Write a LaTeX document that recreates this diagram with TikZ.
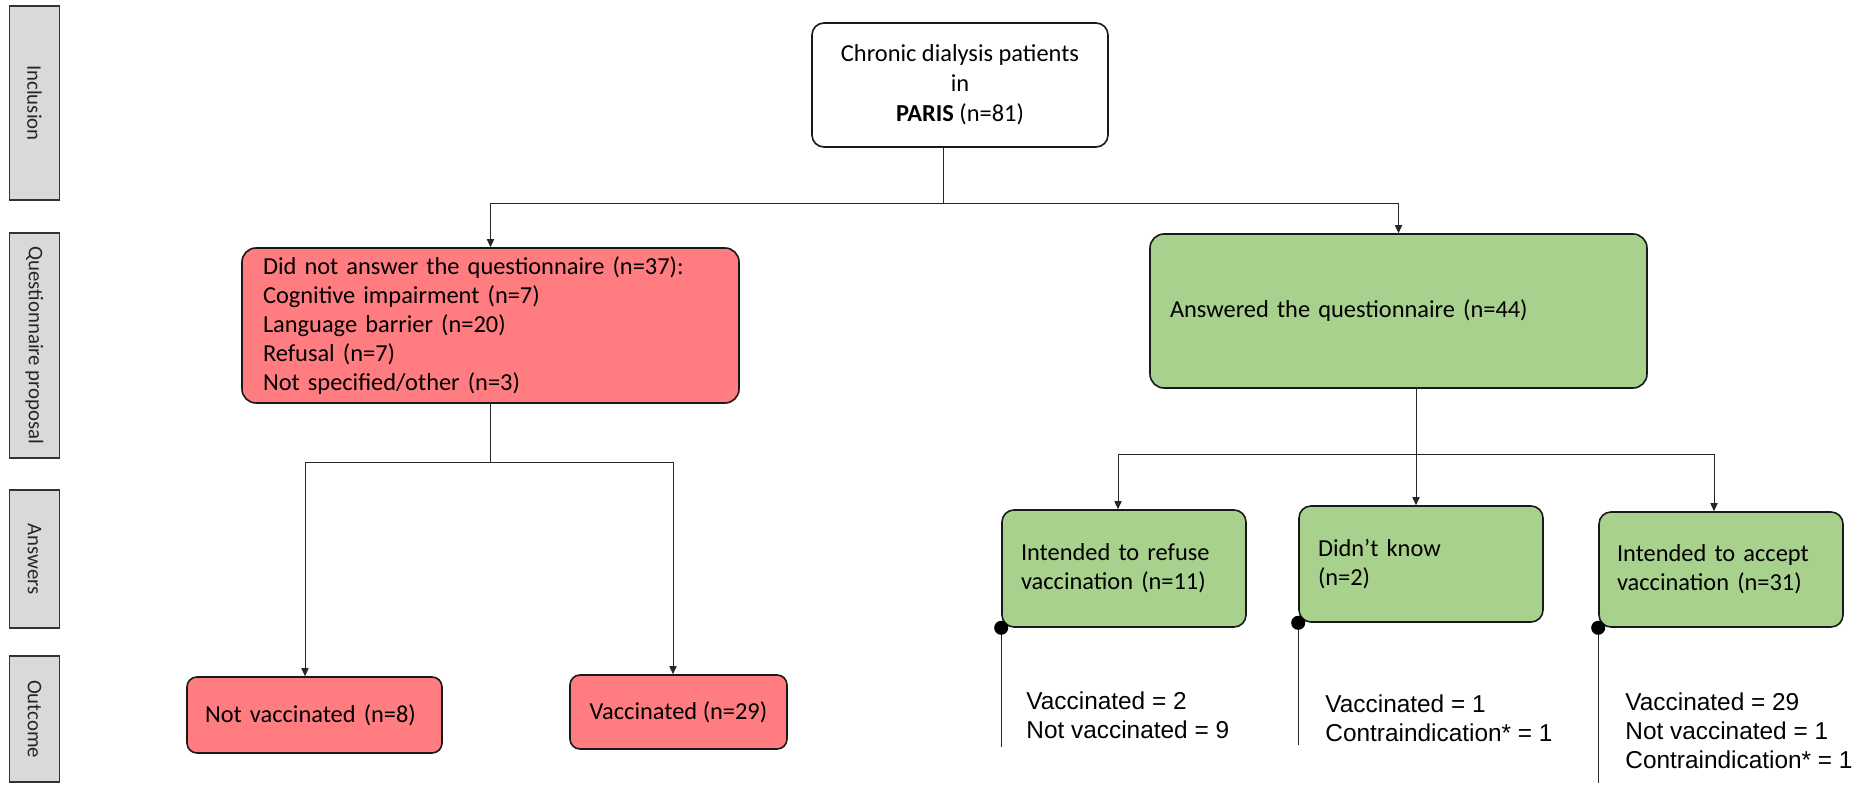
\documentclass[tikz,border=0pt]{standalone}
\usepackage{fontspec}
\setmainfont{Carlito}
\newfontfamily\arialfont{Liberation Sans}
\usetikzlibrary{arrows.meta}
\definecolor{redbox}{RGB}{255,124,128}
\definecolor{greenbox}{RGB}{169,209,142}
\definecolor{barfill}{RGB}{217,217,217}
\begin{document}
\begin{tikzpicture}[x=0.5pt,y=-0.5pt,>={Triangle[length=4pt,width=3.6pt]},
    box/.style={draw=black!90,line width=0.8pt,rounded corners=6pt,font=\fontsize{12.2}{14.6}\selectfont},
    redb/.style={box,fill=redbox},
    greenb/.style={box,fill=greenbox},
    bar/.style={draw=black!80,line width=0.8pt,fill=barfill,rotate=-90,minimum height=25pt,inner sep=0pt,text=black!85,font=\fontsize{10.4}{12}\selectfont},
    link/.style={draw=black!85,line width=0.5pt},
    outtxt/.style={align=left,inner sep=0pt,anchor=west,font=\arialfont\fontsize{12.2}{14.5}\selectfont}]
    \useasboundingbox (0,0) rectangle (1864,785);
    % bandeaux a gauche
    \foreach \lab/\yc/\len [count=\i] in {Inclusion/103/97pt,Questionnaire proposal/345.5/112.5pt,Answers/559/69pt,Outcome/719/63pt}{
        \node[bar,minimum width=\len] (bar\i) at (34.5,\yc) {\lab};
    }
    % boites
    \node[box,minimum width=148pt,minimum height=62pt,align=center,font=\fontsize{12.2}{15}\selectfont] (incl) at (960,85) {Chronic dialysis patients\\in\\\textbf{PARIS} (n=81)};
    \node[redb,text width=227.5pt,inner xsep=10.5pt,minimum height=77.5pt,align=left,rounded corners=7pt] (noans) at (490.5,325.5)
        {Did not answer the questionnaire (n=37):\\Cognitive impairment (n=7)\\Language barrier (n=20)\\Refusal (n=7)\\Not specified/other (n=3)};
    \node[greenb,text width=228.5pt,inner xsep=10pt,minimum height=77pt,align=left,rounded corners=7pt] (ans) at (1398.5,311) {Answered the questionnaire (n=44)};
    \node[redb,text width=109.5pt,inner xsep=9pt,minimum height=38pt,align=left,rounded corners=5pt] (notvac) at (314.5,715) {Not vaccinated (n=8)};
    \node[redb,minimum width=108.5pt,minimum height=37pt,rounded corners=5pt] (vac) at (678.5,712) {Vaccinated (n=29)};
    \node[greenb,text width=103pt,inner xsep=9.5pt,minimum height=58.5pt,align=left] (refuse) at (1124,568.5) {Intended to refuse\\vaccination (n=11)};
    \node[greenb,text width=103pt,inner xsep=9.5pt,minimum height=58pt,align=left] (dk) at (1421,564) {Didn’t know\\(n=2)};
    \node[greenb,text width=104pt,inner xsep=9pt,minimum height=57.5pt,align=left] (accept) at (1721,569.5) {Intended to accept\\vaccination (n=31)};
    % fleches
    \coordinate (j1) at (943,204);
    \draw[link] ([xshift=-8.5pt]incl.south) -- (j1);
    \draw[link,->] (j1) -| (noans.north);
    \draw[link,->] (j1) -| (ans.north);
    \draw[link] (noans.south) -- ++(0,59) coordinate (j2);
    \draw[link,->] (j2) -| ([xshift=-4.75pt]notvac.north);
    \draw[link,->] (j2) -| ([xshift=-2.75pt]vac.north);
    \draw[link] ([xshift=8.75pt]ans.south) -- ++(0,66) coordinate (j3);
    \draw[link,->] (j3) -| ([xshift=-3pt]refuse.north);
    \draw[link,->] (j3) -- (j3 |- dk.north);
    \draw[link,->] (j3) -| ([xshift=-3.5pt]accept.north);
    % resultats
    \foreach \b/\len in {refuse/119,dk/122,accept/155}{
        \draw[link,{Circle[length=7pt,black,sep=-3.5pt]}-] (\b.south west) -- ++(0,\len);
    }
    \node[outtxt] (rfout) at (1026,715.5) {Vaccinated = 2\\Not vaccinated = 9};
    \node[outtxt] (dkout) at (1325,718) {Vaccinated = 1\\Contraindication* = 1};
    \node[outtxt] (acout) at (1625,731) {Vaccinated = 29\\Not vaccinated = 1\\Contraindication* = 1};
\end{tikzpicture}
\end{document}
